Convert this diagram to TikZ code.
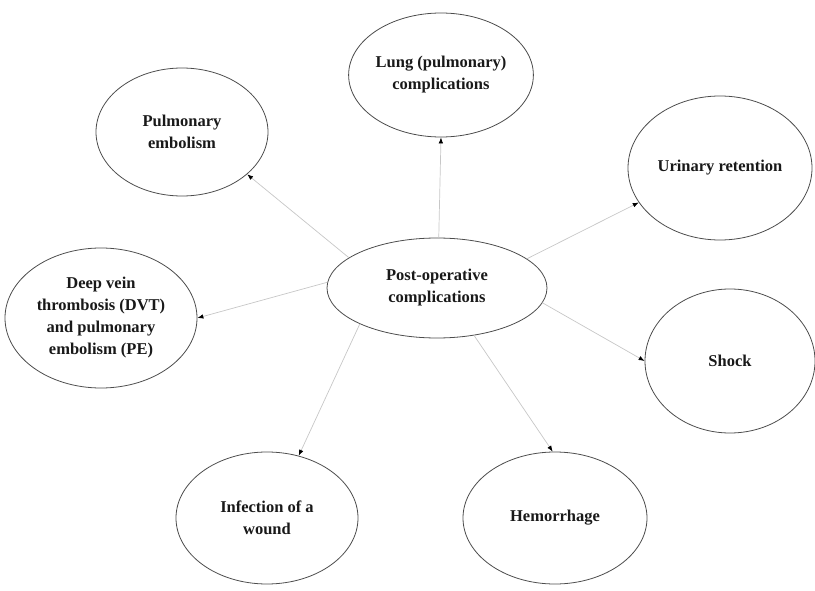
\documentclass[tikz,border=0pt]{standalone}
\usepackage{fontspec}
\setmainfont{Liberation Serif}
\usetikzlibrary{shapes.geometric,arrows.meta}

\begin{document}
\begin{tikzpicture}[x=1pt, y=-1pt, line cap=round, line join=round,
    bubble/.style={ellipse, draw=black!70, line width=0.8pt, inner sep=0pt,
      align=center, text=black!90, font=\fontsize{16.5}{22}\selectfont\bfseries},
    link/.style={draw=black!22, line width=0.7pt,
      -{Latex[length=6pt, width=4.5pt, color=black]}}]
  \useasboundingbox (0,0) rectangle (815,591);

  \node[bubble, minimum width=220pt, minimum height=100pt] (post) at (437,288)
    {Post-operative\\complications};
  \node[bubble, minimum width=174pt, minimum height=124pt] (lung) at (441,75)
    {Lung (pulmonary)\\complications};
  \node[bubble, minimum width=172pt, minimum height=128pt] (pemb) at (182,132)
    {Pulmonary\\embolism};
  \node[bubble, minimum width=184pt, minimum height=144pt] (urin) at (720,168)
    {Urinary retention};
  \node[bubble, minimum width=170pt, minimum height=144pt] (shock) at (730,361)
    {Shock};
  \node[bubble, minimum width=192pt, minimum height=140pt] (dvt) at (101,318)
    {Deep vein\\thrombosis (DVT)\\and pulmonary\\embolism (PE)};
  \node[bubble, minimum width=182pt, minimum height=132pt] (infect) at (267,518)
    {Infection of a\\wound};
  \node[bubble, minimum width=184pt, minimum height=132pt] (hemo) at (555,518)
    {Hemorrhage};

  \draw[link] (post.88) -- (lung.south);
  \draw[link] (post.161) -- (pemb.-33);
  \draw[link] (post.18) -- (urin.-157);
  \draw[link] (post.-8) -- (shock.west);
  \draw[link] (post.177) -- (dvt.east);
  \draw[link] (post.-155) -- (infect.63);
  \draw[link] (post.-52) -- (hemo.92);
\end{tikzpicture}
\end{document}
